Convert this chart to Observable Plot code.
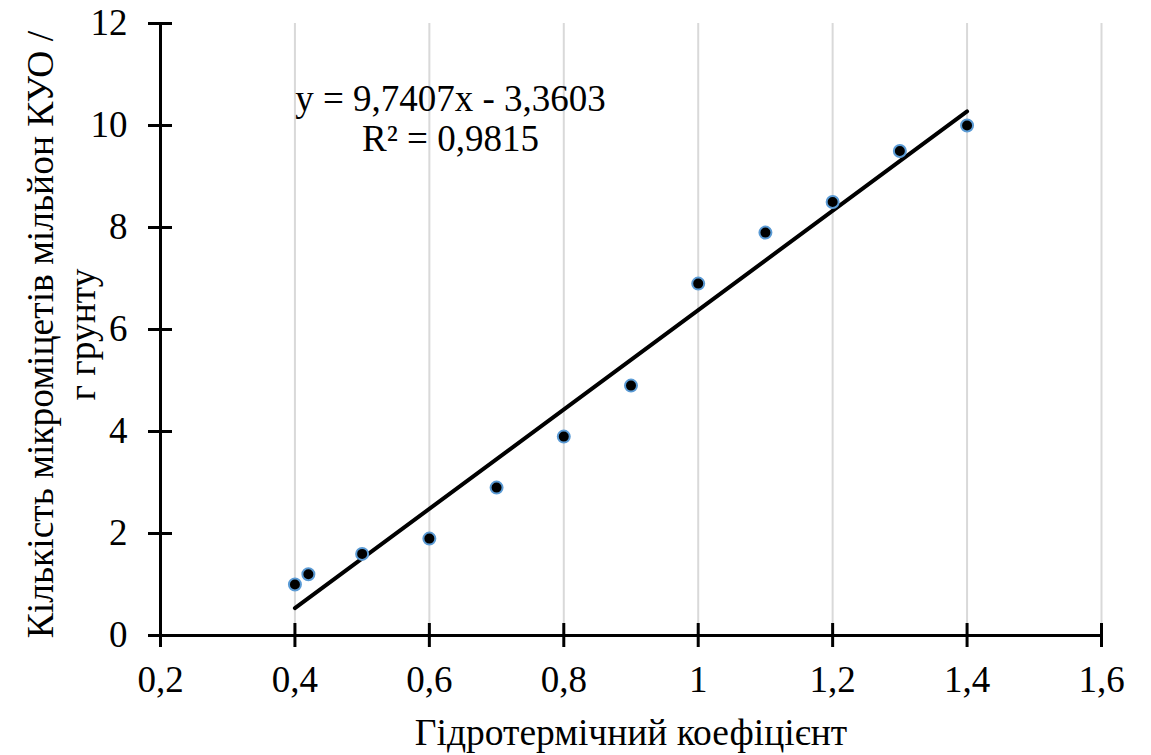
<!DOCTYPE html>
<html>
<head>
<meta charset="utf-8">
<script src="https://cdn.jsdelivr.net/npm/d3@7"></script>
<script src="https://cdn.jsdelivr.net/npm/@observablehq/plot@0.6"></script>
<style>
  html, body { margin: 0; padding: 0; background: white; font-family: "Liberation Serif", serif; }
  #chart svg { display: block; }
</style>
</head>
<body>
<div id="chart"></div>
<script>
// Data
const htc = [0.4, 0.42, 0.5, 0.6, 0.7, 0.8, 0.9, 1.0, 1.1, 1.2, 1.3, 1.4];
const fungi = [1.0, 1.2, 1.6, 1.9, 2.9, 3.9, 4.9, 6.9, 7.9, 8.5, 9.5, 10.0];
const xTicks = [0.2, 0.4, 0.6, 0.8, 1.0, 1.2, 1.4, 1.6];
const yTicks = [0, 2, 4, 6, 8, 10, 12];
const slope = 9.7407;
const intercept = -3.3603;
const trendX = [0.4, 1.4];
const equationText = "y = 9,7407x - 3,3603\nR² = 0,9815";
const xTitle = "Гідротермічний коефіцієнт";
const yTitle = "Кількість мікроміцетів мільйон КУО /\nг грунту";

const points = htc.map((x, i) => ({x, y: fungi[i]}));
const trend = trendX.map(x => ({x, y: slope * x + intercept}));
const fmt = d => String(d).replace(".", ",");

const chart = Plot.plot({
  width: 1151,
  height: 755,
  marginTop: 23,
  marginRight: 50,
  marginBottom: 120,
  marginLeft: 160,
  style: {fontFamily: "Liberation Serif", fontSize: "37px", background: "white"},
  x: {domain: [0.2, 1.6], ticks: xTicks},
  y: {domain: [0, 12], ticks: yTicks},
  marks: [
    Plot.ruleX(xTicks.slice(1), {y1: 0, y2: 12, stroke: "#d9d9d9", strokeWidth: 2}),
    Plot.ruleY([0], {x1: 0.2, x2: 1.6, stroke: "black", strokeWidth: 3}),
    Plot.ruleX([0.2], {y1: 0, y2: 12, stroke: "black", strokeWidth: 3}),
    Plot.ruleX(xTicks, {x: d => d, y1: 0, y2: 0, insetTop: -12, insetBottom: -12, stroke: "black", strokeWidth: 3}),
    Plot.ruleY(yTicks, {y: d => d, x1: 0.2, x2: 0.2, insetLeft: -12, insetRight: -12, stroke: "black", strokeWidth: 3}),
    Plot.axisX({ticks: xTicks, tickSize: 0, tickPadding: 30, tickFormat: fmt, label: null, fontSize: 37}),
    Plot.axisY({ticks: yTicks, tickSize: 0, tickPadding: 33, tickFormat: fmt, label: null, fontSize: 37}),
    Plot.line(trend, {x: "x", y: "y", stroke: "black", strokeWidth: 4}),
    Plot.dot(points, {x: "x", y: "y", r: 6, fill: "black", stroke: "#5b9bd5", strokeWidth: 2}),
    Plot.text([equationText], {frameAnchor: "top-left", dx: 290, dy: 59, text: d => d,
      textAnchor: "middle", lineAnchor: "top", lineHeight: 40/37, fontSize: 37, fill: "black"}),
    Plot.text([xTitle], {frameAnchor: "bottom", dy: 83, text: d => d, lineAnchor: "top", fontSize: 37.5, fill: "black"}),
    Plot.text([yTitle], {frameAnchor: "left", dx: -137, dy: 5, text: d => d, rotate: -90,
      lineAnchor: "top", lineHeight: 42/37.5, textAnchor: "middle", fontSize: 37.5, fill: "black"})
  ]
});
document.getElementById("chart").appendChild(chart);
</script>
</body>
</html>
